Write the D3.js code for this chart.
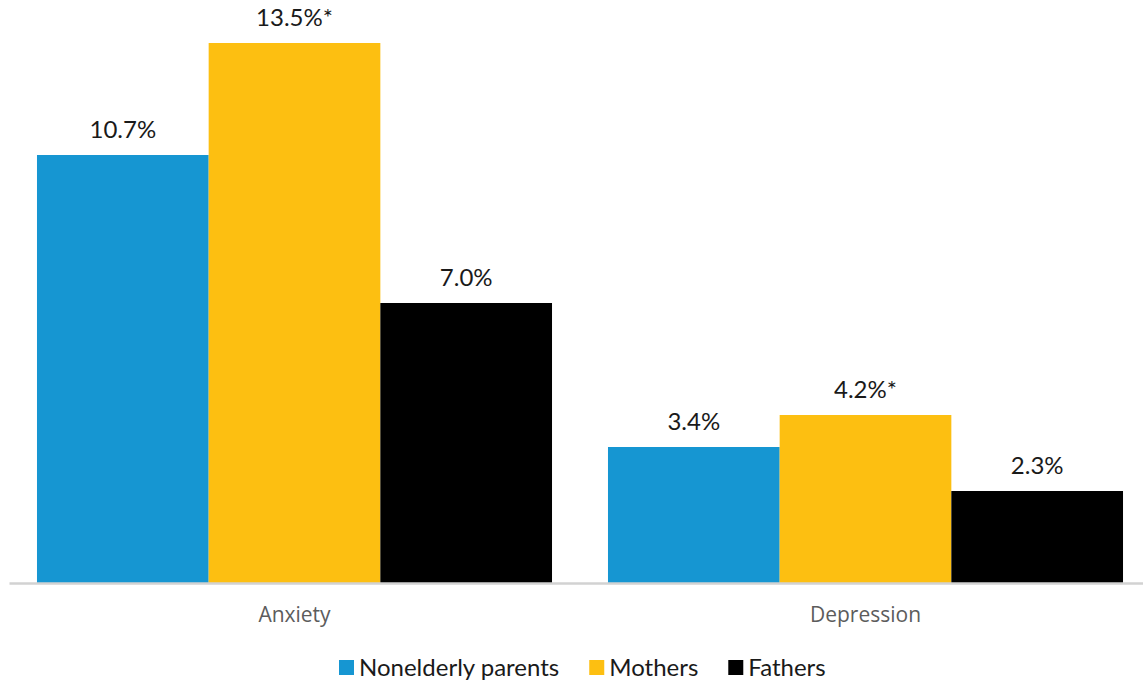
<!DOCTYPE html>
<html>
<head>
<meta charset="utf-8">
<script src="https://cdn.jsdelivr.net/npm/d3@7/dist/d3.min.js"></script>
<style>
  html, body { margin: 0; padding: 0; background: #fff; }
  svg { display: block; font-family: Lato, "Open Sans", sans-serif; }
</style>
</head>
<body>
<svg id="chart" width="1143" height="681"></svg>
<script>
// Share of nonelderly parents reporting anxiety / depression
const categories = ["Anxiety", "Depression"];
const seriesNames = ["Nonelderly parents", "Mothers", "Fathers"];
const nonelderlyParents = [10.7, 3.4];
const mothers = [13.5, 4.2];
const fathers = [7.0, 2.3];
const flags = [["", "*", ""], ["", "*", ""]]; // significance markers per category/series
const colors = ["#1696d2", "#fdbf11", "#000000"];

const values = [nonelderlyParents, mothers, fathers];

const svg = d3.select("#chart");
const baseline = 583;

const x0 = d3.scaleBand().domain(categories).range([9, 1151]).padding(0);
const x1 = d3.scaleBand().domain(seriesNames)
  .range([0, x0.bandwidth()]).paddingInner(0).paddingOuter(0.163);
const y = d3.scaleLinear().domain([0, 14]).range([baseline, 23]);

const rows = categories.map((c, i) => ({
  category: c,
  items: seriesNames.map((s, j) => ({ series: s, value: values[j][i], flag: flags[i][j], color: colors[j] }))
}));

const groups = svg.selectAll("g.group").data(rows).join("g")
  .attr("class", "group")
  .attr("transform", d => `translate(${x0(d.category)},0)`);

groups.selectAll("rect").data(d => d.items).join("rect")
  .attr("x", d => x1(d.series))
  .attr("width", x1.bandwidth())
  .attr("y", d => y(d.value))
  .attr("height", d => baseline - y(d.value))
  .attr("fill", d => d.color);

groups.selectAll("text.value").data(d => d.items).join("text")
  .attr("class", "value")
  .attr("x", d => x1(d.series) + x1.bandwidth() / 2)
  .attr("y", d => y(d.value) - 17)
  .attr("text-anchor", "middle")
  .attr("font-size", 24)
  .attr("fill", "#1a1a1a")
  .text(d => d.value.toFixed(1) + "%" + d.flag);

// baseline axis
const xAxis = d3.axisBottom(x0).tickSize(0).tickPadding(24);
const axisG = svg.append("g").attr("transform", `translate(0,${baseline})`).call(xAxis);
axisG.select(".domain").attr("stroke", "#d2d2d2").attr("stroke-width", 2.5);
axisG.selectAll(".tick text")
  .attr("font-family", "'Open Sans', sans-serif")
  .attr("font-size", 21)
  .attr("fill", "#5c5c5c");

// legend
const legend = svg.append("g").attr("transform", "translate(339,0)");
let lx = 0;
seriesNames.forEach((name, j) => {
  const item = legend.append("g").attr("transform", `translate(${lx},0)`);
  item.append("rect").attr("x", 0).attr("y", 660).attr("width", 15).attr("height", 15).attr("fill", colors[j]);
  const t = item.append("text").attr("x", 20).attr("y", 676)
    .attr("font-size", 24).attr("fill", "#1a1a1a").text(name);
  lx += 20 + t.node().getComputedTextLength() + 30;
});
</script>
</body>
</html>
